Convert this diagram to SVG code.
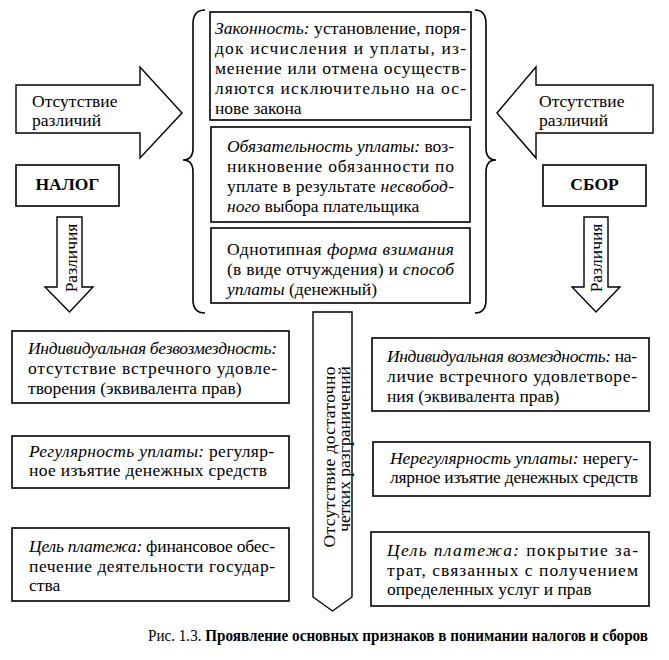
<svg xmlns="http://www.w3.org/2000/svg" width="669" height="660" viewBox="0 0 669 660">
<style>
.box{fill:#fff;stroke:#000;stroke-width:1.6}
.shape{fill:#fff;stroke:#000;stroke-width:1.4;stroke-linejoin:miter}
.brace{fill:none;stroke:#000;stroke-width:1.6}
text{font-family:"Liberation Serif","Times New Roman",serif;font-size:17.5px;fill:#000}
.i{font-style:italic}
.b{font-weight:bold}
.lbl{font-size:17.5px}
</style>
<rect width="669" height="660" fill="#fff"/>

<g id="connectors">
  <polygon class="shape" points="16,85 140,85 140,67 182,113 140,158 140,133 16,133"/>
  <polygon class="shape" points="653,85 536,85 536,67 497,113 536,158 536,133 653,133"/>
  <polygon class="shape" points="57,217 82,217 82,287 93,287 69.5,312 45,287 57,287"/>
  <polygon class="shape" points="584,217 608,217 608,287 620,287 596,312 572,287 584,287"/>
  <polygon class="shape" points="313,312 352,312 352,597 332.5,611 313,597"/>
  <path class="brace" d="M205,10 Q193,10 193,24 L193,148 Q193,160 183,160 Q193,160 193,172 L193,300 Q193,313 205,313"/>
  <path class="brace" d="M475,10 Q486,10 486,24 L486,148 Q486,160 496,160 Q486,160 486,172 L486,300 Q486,313 475,313"/>
  <text class="lbl" x="32" y="107">Отсутствие</text>
  <text class="lbl" x="32" y="126">различий</text>
  <text class="lbl" x="539" y="107">Отсутствие</text>
  <text class="lbl" x="539" y="126">различий</text>
  <text class="lbl" transform="translate(77,258) rotate(-90)" text-anchor="middle">Различия</text>
  <text class="lbl" transform="translate(602,258) rotate(-90)" text-anchor="middle">Различия</text>
  <text class="lbl" transform="translate(335,457) rotate(-90)" text-anchor="middle" textLength="181" lengthAdjust="spacing">Отсутствие достаточно</text>
  <text class="lbl" transform="translate(350,449) rotate(-90)" text-anchor="middle">четких разграничений</text>
</g>

<g id="nalog">
  <rect class="box" x="16" y="165" width="103" height="41"/>
  <text class="b" x="67.5" y="190" text-anchor="middle">НАЛОГ</text>
</g>
<g id="sbor">
  <rect class="box" x="543" y="165" width="103" height="41"/>
  <text class="b" x="594.5" y="190" text-anchor="middle">СБОР</text>
</g>

<g id="zakonnost">
  <rect class="box" x="210" y="12" width="261" height="108"/>
  <text x="215" y="34" textLength="251" lengthAdjust="spacing"><tspan class="i">Законность:</tspan> установление, поря-</text>
  <text x="215" y="54" textLength="251" lengthAdjust="spacing">док исчисления и уплаты, из-</text>
  <text x="215" y="74" textLength="251" lengthAdjust="spacing">менение или отмена осуществ-</text>
  <text x="215" y="94" textLength="251" lengthAdjust="spacing">ляются исключительно на ос-</text>
  <text x="215" y="114">нове закона</text>
</g>

<g id="obyazatelnost">
  <rect class="box" x="211" y="127" width="259" height="95"/>
  <text x="227" y="152" textLength="227" lengthAdjust="spacing"><tspan class="i">Обязательность уплаты:</tspan> воз-</text>
  <text x="227" y="172" textLength="227" lengthAdjust="spacing">никновение обязанности по</text>
  <text x="227" y="192" textLength="227" lengthAdjust="spacing">уплате в результате <tspan class="i">несвобод-</tspan></text>
  <text x="227" y="212"><tspan class="i">ного</tspan> выбора плательщика</text>
</g>

<g id="odnotipnaya">
  <rect class="box" x="211" y="228" width="259" height="75"/>
  <text x="227" y="255" textLength="227" lengthAdjust="spacing">Однотипная <tspan class="i">форма взимания</tspan></text>
  <text x="227" y="275" textLength="227" lengthAdjust="spacing">(в виде отчуждения) и <tspan class="i">способ</tspan></text>
  <text x="227" y="295"><tspan class="i">уплаты</tspan> (денежный)</text>
</g>

<g id="bezvozmezdnost">
  <rect class="box" x="12" y="331" width="277" height="72"/>
  <text x="28" y="354" textLength="249" lengthAdjust="spacing" class="i">Индивидуальная безвозмездность:</text>
  <text x="28" y="374" textLength="249" lengthAdjust="spacing">отсутствие встречного удовле-</text>
  <text x="28" y="394">творения (эквивалента прав)</text>
</g>

<g id="regularnost">
  <rect class="box" x="12" y="436" width="277" height="52"/>
  <text x="29" y="457" textLength="245" lengthAdjust="spacing"><tspan class="i">Регулярность уплаты:</tspan> регуляр-</text>
  <text x="29" y="476" textLength="238" lengthAdjust="spacing">ное изъятие денежных средств</text>
</g>

<g id="cel-nalog">
  <rect class="box" x="12" y="528" width="277" height="73"/>
  <text x="29" y="552" textLength="246" lengthAdjust="spacing"><tspan class="i">Цель платежа:</tspan> финансовое обес-</text>
  <text x="29" y="572" textLength="246" lengthAdjust="spacing">печение деятельности государ-</text>
  <text x="29" y="591">ства</text>
</g>

<g id="vozmezdnost">
  <rect class="box" x="372" y="338" width="277" height="73"/>
  <text x="387" y="362" textLength="250" lengthAdjust="spacing"><tspan class="i">Индивидуальная возмездность:</tspan> на-</text>
  <text x="387" y="382" textLength="250" lengthAdjust="spacing">личие встречного удовлетворе-</text>
  <text x="387" y="402">ния (эквивалента прав)</text>
</g>

<g id="neregularnost">
  <rect class="box" x="373" y="442" width="277" height="54"/>
  <text x="390" y="464" textLength="248" lengthAdjust="spacing"><tspan class="i">Нерегулярность уплаты:</tspan> нерегу-</text>
  <text x="390" y="483" textLength="248" lengthAdjust="spacing">лярное изъятие денежных средств</text>
</g>

<g id="cel-sbor">
  <rect class="box" x="371" y="532" width="278" height="74"/>
  <text x="387" y="556" textLength="251" lengthAdjust="spacing"><tspan class="i">Цель платежа:</tspan> покрытие за-</text>
  <text x="387" y="576" textLength="251" lengthAdjust="spacing">трат, связанных с получением</text>
  <text x="387" y="595">определенных услуг и прав</text>
</g>

<g id="caption">
  <text transform="translate(148,641) scale(0.865,1)">Рис. 1.3. <tspan class="b">Проявление основных признаков в понимании налогов и сборов</tspan></text>
</g>
</svg>
